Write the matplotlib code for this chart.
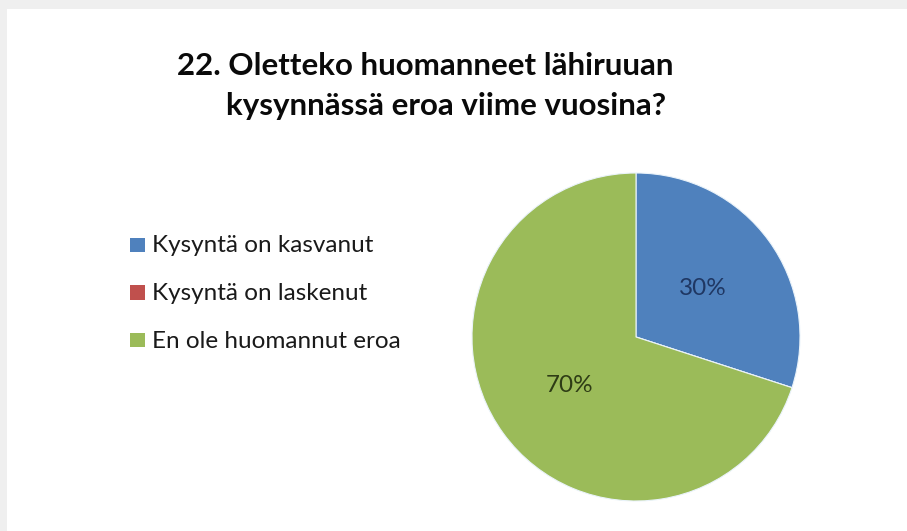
import matplotlib
matplotlib.use("Agg")
import matplotlib.pyplot as plt
from matplotlib.patches import Rectangle

categories = ["Kysyntä on kasvanut", "Kysyntä on laskenut", "En ole huomannut eroa"]
values = [30, 0, 70]
colors = ["#4F81BD", "#C0504D", "#9BBB59"]
label_colors = ["#1F3763", "#5A1E1D", "#2E3C15"]
title_lines = ["22. Oletteko huomanneet lähiruuan", "kysynnässä eroa viime vuosina?"]

W, H = 907, 531
fig = plt.figure(figsize=(W / 100, H / 100), dpi=100)
fig.patch.set_facecolor("white")

# light frame (screenshot border)
fig.patches.append(Rectangle((0, 1 - 9 / H), 1, 9 / H, transform=fig.transFigure,
                             facecolor="#EFEFEF", edgecolor="none", zorder=0))
fig.patches.append(Rectangle((0, 0), 7 / W, 1, transform=fig.transFigure,
                             facecolor="#EFEFEF", edgecolor="none", zorder=0))

font = ["Lato", "DejaVu Sans"]

# Title
fig.text(177 / W, 1 - 75 / H, title_lines[0], ha="left", va="baseline",
         fontsize=22.5, fontweight="bold", family=font, color="#0a0a0a")
fig.text(226 / W, 1 - 115 / H, title_lines[1], ha="left", va="baseline",
         fontsize=22.5, fontweight="bold", family=font, color="#0a0a0a")

# Pie
cx, cy, r = 636, 337, 164
ax = fig.add_axes([(cx - r) / W, (H - cy - r) / H, 2 * r / W, 2 * r / H])
wedges, texts, autotexts = ax.pie(
    values, colors=colors, startangle=90, counterclock=False,
    autopct=lambda p: f"{p:.0f}%" if p > 0 else "", pctdistance=0.5,
    wedgeprops=dict(edgecolor="#EAF3FA", linewidth=0.8),
    textprops=dict(fontsize=17.5, family=font))
for t, c in zip(autotexts, label_colors):
    t.set_color(c)
ax.set_xlim(-1, 1)
ax.set_ylim(-1, 1)
ax.set_aspect("equal")
ax.axis("off")

# Legend (manual, from the data lists)
sq = 14.5
for i, (cat, col) in enumerate(zip(categories, colors)):
    yc = 245 + i * 47.5
    fig.patches.append(Rectangle((130 / W, 1 - (yc + sq / 2) / H), sq / W, sq / H,
                                 transform=fig.transFigure, facecolor=col,
                                 edgecolor="none"))
    fig.text(152 / W, 1 - (yc + 7.5) / H, cat, ha="left", va="baseline",
             fontsize=17.5, family=font, color="#1a1a1a")

fig.savefig("out.png", dpi=100, facecolor="white")
